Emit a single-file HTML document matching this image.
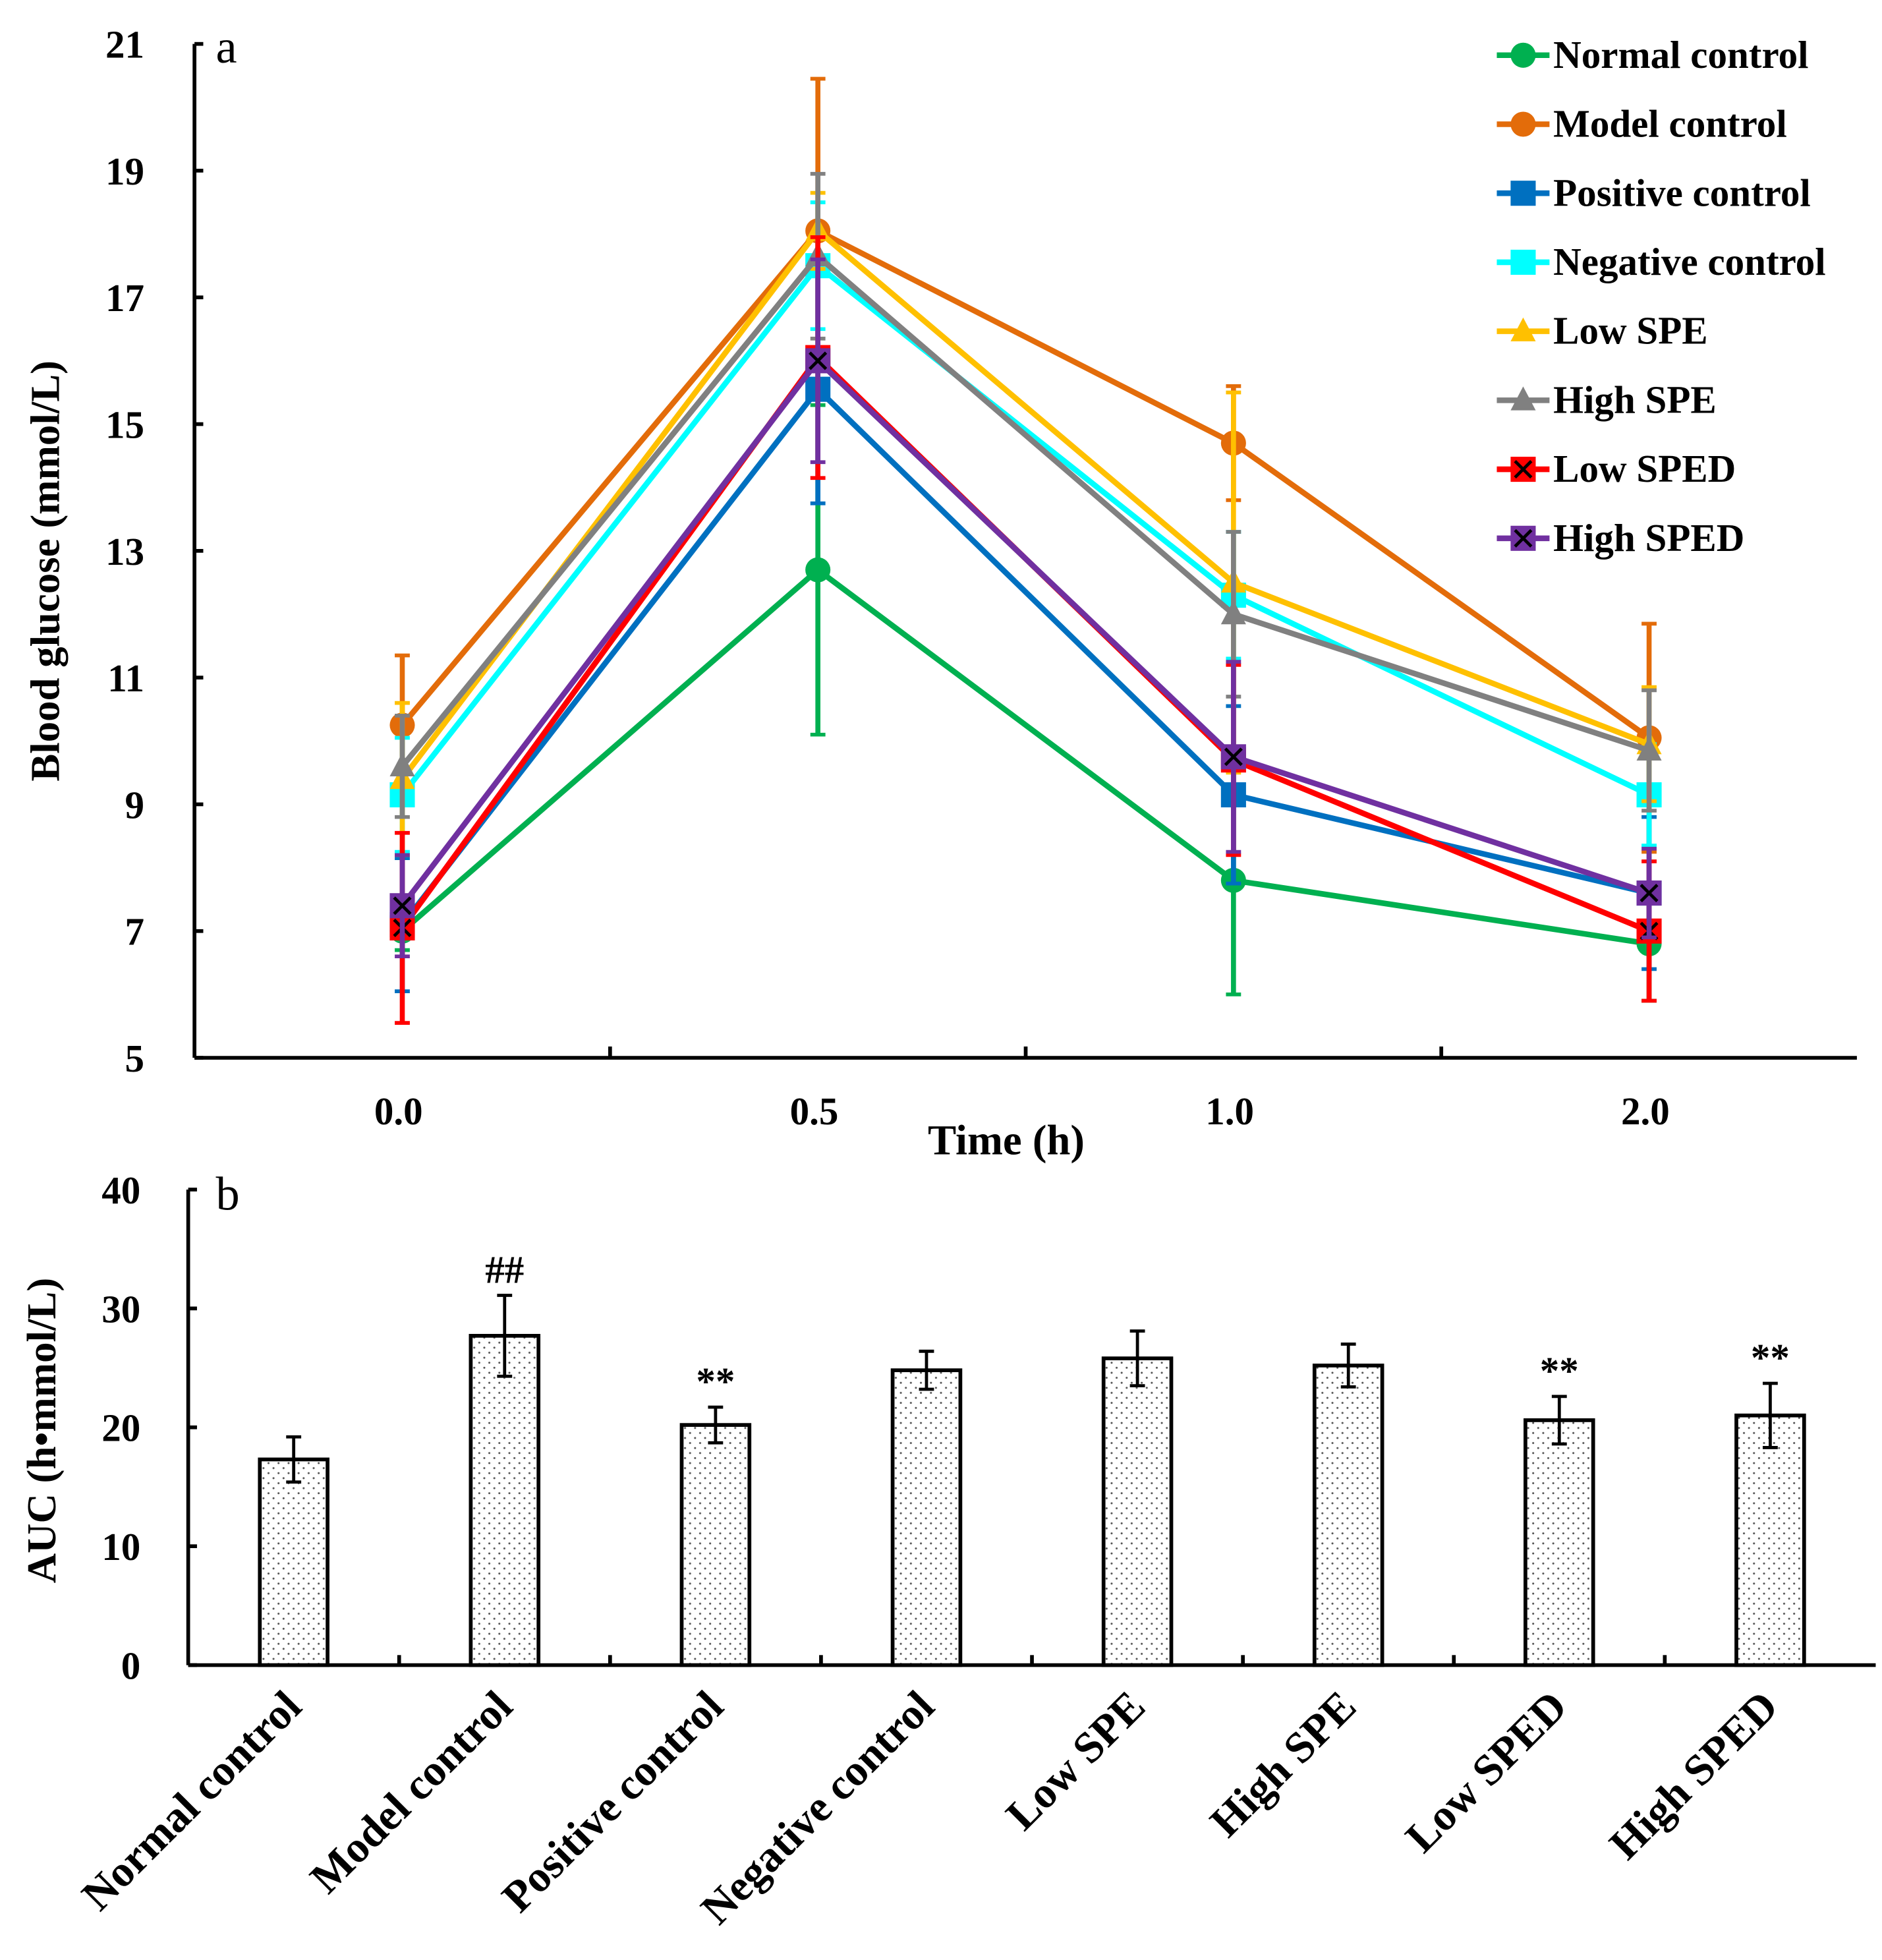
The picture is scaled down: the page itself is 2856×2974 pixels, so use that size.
<!DOCTYPE html>
<html><head><meta charset="utf-8"><style>
html,body{margin:0;padding:0;background:#fff}
svg{display:block}
text{font-family:"Liberation Serif",serif;font-weight:bold;fill:#000}
</style></head><body>
<svg id="c" width="2856" height="2974" viewBox="0 0 1500 1562" xmlns="http://www.w3.org/2000/svg">
<defs>
<pattern id="dots" width="8" height="8" patternUnits="userSpaceOnUse">
<rect width="8" height="8" fill="#fff"/><circle cx="2" cy="2" r="0.8" fill="#555"/><circle cx="6" cy="6" r="0.8" fill="#555"/>
</pattern>
</defs>
<g id="topchart"></g>
<g id="botchart"></g>
</svg>
<script>
const timeLabels=["0.0","0.5","1.0","2.0"];
const seriesNames=["Normal control","Model control","Positive control","Negative control","Low SPE","High SPE","Low SPED","High SPED"];
const seriesColors=["#00b050","#e36c0a","#0070c0","#00ffff","#ffc000","#808080","#ff0000","#7030a0"];
const seriesMarkers=["circle","circle","square","square","triangle","triangle","x","x"];
const normalVals=[7.0,12.7,7.8,6.8], normalErr=[0.3,2.6,1.8,0.9];
const modelVals=[10.25,18.05,14.7,10.05], modelErr=[1.1,2.4,0.9,1.8];
const positiveVals=[7.1,15.55,9.15,7.6], positiveErr=[1.05,1.8,1.4,1.2];
const negativeVals=[9.15,17.5,12.3,9.15], negativeErr=[0.9,1.0,1.0,0.8];
const lowSpeVals=[9.4,18.05,12.5,9.95], lowSpeErr=[1.2,0.6,3.0,0.9];
const highSpeVals=[9.6,17.65,12.0,9.85], highSpeErr=[0.8,1.3,1.3,0.95];
const lowSpedVals=[7.05,16.05,9.7,7.0], lowSpedErr=[1.5,1.9,1.5,1.1];
const highSpedVals=[7.4,16.0,9.75,7.6], highSpedErr=[0.8,1.6,1.5,0.7];
const yTicksTop=[5,7,9,11,13,15,17,19,21];
const barCats=["Normal control","Model control","Positive control","Negative control","Low SPE","High SPE","Low SPED","High SPED"];
const barVals=[17.3,27.7,20.2,24.8,25.8,25.2,20.6,21.0];
const barErr=[1.9,3.4,1.5,1.6,2.3,1.8,2.0,2.7];
const barMarks=["","##","**","","","","**","**"];
const yTicksBot=[0,10,20,30,40];

const NS="http://www.w3.org/2000/svg";
function mk(parent,tag,attrs,txt){const e=document.createElementNS(NS,tag);for(const k in attrs)e.setAttribute(k,attrs[k]);if(txt!==undefined)e.textContent=txt;parent.appendChild(e);return e;}

const topG=document.getElementById('topchart');
const tX0=155,tX1=1480,tYtop=35,tYbot=843;
const yT=v=>tYbot-(v-5)/(21-5)*(tYbot-tYtop);
const band=(tX1-tX0)/4;
const xT=i=>tX0+band*(i+0.5);
let e;
e=mk(topG,'line',{x1:tX0,y1:tYtop,x2:tX0,y2:tYbot,stroke:'#000','stroke-width':3});

e=mk(topG,'line',{x1:tX0,y1:tYbot,x2:tX1,y2:tYbot,stroke:'#000','stroke-width':3});

yTicksTop.forEach(v=>{
  mk(topG,'line',{x1:tX0,y1:yT(v),x2:tX0+7,y2:yT(v),stroke:'#000','stroke-width':3});
  e=mk(topG,'text',{x:tX0-40,y:yT(v)+11,'text-anchor':'end','font-size':31},v);
  
});
for(let i=1;i<4;i++)mk(topG,'line',{x1:tX0+band*i,y1:tYbot,x2:tX0+band*i,y2:tYbot-9,stroke:'#000','stroke-width':3});
timeLabels.forEach((t,i)=>{e=mk(topG,'text',{x:xT(i)-3,y:896,'text-anchor':'middle','font-size':31},t);
  });
e=mk(topG,'text',{x:802,y:920,'text-anchor':'middle','font-size':34},'Time (h)');

e=mk(topG,'text',{x:47,y:455,'text-anchor':'middle','font-size':33,transform:'rotate(-90 47 455)'},'Blood glucose (mmol/L)');

e=mk(topG,'text',{x:172,y:50,'font-size':38,style:'font-weight:normal'},'a');


const allVals=[normalVals,modelVals,positiveVals,negativeVals,lowSpeVals,highSpeVals,lowSpedVals,highSpedVals];
const allErr=[normalErr,modelErr,positiveErr,negativeErr,lowSpeErr,highSpeErr,lowSpedErr,highSpedErr];
function marker(g,type,x,y,c,s){
  if(type==='circle')return mk(g,'circle',{cx:x,cy:y,r:s,fill:c});
  if(type==='square')return mk(g,'rect',{x:x-s,y:y-s,width:2*s,height:2*s,fill:c});
  if(type==='triangle')return mk(g,'polygon',{points:`${x},${y-s*1.1} ${x-s},${y+s*0.8} ${x+s},${y+s*0.8}`,fill:c});
  const gg=mk(g,'g',{});
  mk(gg,'rect',{x:x-s,y:y-s,width:2*s,height:2*s,fill:c});
  mk(gg,'path',{d:`M${x-s*0.65},${y-s*0.65}L${x+s*0.65},${y+s*0.65}M${x+s*0.65},${y-s*0.65}L${x-s*0.65},${y+s*0.65}`,stroke:'#000','stroke-width':2.5});
  return gg;
}
allVals.forEach((vals,si)=>{
  const c=seriesColors[si];
  const g=mk(topG,'g',{});
  
  
  vals.forEach((v,i)=>{const er=allErr[si][i];
    mk(g,'line',{x1:xT(i),y1:yT(v-er),x2:xT(i),y2:yT(v+er),stroke:c,'stroke-width':4});
    mk(g,'line',{x1:xT(i)-6,y1:yT(v+er),x2:xT(i)+6,y2:yT(v+er),stroke:c,'stroke-width':3});
    mk(g,'line',{x1:xT(i)-6,y1:yT(v-er),x2:xT(i)+6,y2:yT(v-er),stroke:c,'stroke-width':3});
  });
  mk(g,'polyline',{points:vals.map((v,i)=>xT(i)+','+yT(v)).join(' '),fill:'none',stroke:c,'stroke-width':4.5});
  vals.forEach((v,i)=>{const m=marker(g,seriesMarkers[si],xT(i),yT(v),c,10);
    
    });
  const ly=44+si*55;
  const lg=mk(topG,'g',{});
  
  
  mk(lg,'line',{x1:1193,y1:ly,x2:1235,y2:ly,stroke:c,'stroke-width':4.5});
  marker(lg,seriesMarkers[si],1214,ly,c,10);
  mk(lg,'text',{x:1238,y:ly+10,'font-size':31},seriesNames[si]);
});

const botG=document.getElementById('botchart');
const bX0=150,bX1=1495,bYtop=948,bYbot=1327;
const yB=v=>bYbot-v/40*(bYbot-bYtop);
const bb=(bX1-bX0)/8;
const xB=i=>bX0+bb*(i+0.5);
e=mk(botG,'line',{x1:bX0,y1:bYtop,x2:bX0,y2:bYbot,stroke:'#000','stroke-width':3});

e=mk(botG,'line',{x1:bX0,y1:bYbot,x2:bX1,y2:bYbot,stroke:'#000','stroke-width':3});

yTicksBot.forEach(v=>{
  mk(botG,'line',{x1:bX0,y1:yB(v),x2:bX0+7,y2:yB(v),stroke:'#000','stroke-width':3});
  e=mk(botG,'text',{x:bX0-38,y:yB(v)+11,'text-anchor':'end','font-size':31},v);
  
});
for(let i=1;i<8;i++)mk(botG,'line',{x1:bX0+bb*i,y1:bYbot,x2:bX0+bb*i,y2:bYbot-8,stroke:'#000','stroke-width':3});
e=mk(botG,'text',{x:44,y:1140,'text-anchor':'middle','font-size':33,transform:'rotate(-90 44 1140)'},'AUC (h•mmol/L)');

e=mk(botG,'text',{x:172,y:964,'font-size':38,style:'font-weight:normal'},'b');

barVals.forEach((v,i)=>{
  const x=xB(i),w=54;
  e=mk(botG,'rect',{x:x-w/2,y:yB(v),width:w,height:bYbot-yB(v),fill:'url(#dots)',stroke:'#000','stroke-width':3});
  
  
  const er=barErr[i];
  mk(botG,'line',{x1:x,y1:yB(v-er),x2:x,y2:yB(v+er),stroke:'#000','stroke-width':2.5});
  mk(botG,'line',{x1:x-6,y1:yB(v+er),x2:x+6,y2:yB(v+er),stroke:'#000','stroke-width':2.5});
  mk(botG,'line',{x1:x-6,y1:yB(v-er),x2:x+6,y2:yB(v-er),stroke:'#000','stroke-width':2.5});
  if(barMarks[i]){e=mk(botG,'text',{x:x,y:yB(v+er)-10,'text-anchor':'middle','font-size':31},barMarks[i]);
    
    }
  const lx=x+8,ly=1362;
  e=mk(botG,'text',{x:lx,y:ly,'text-anchor':'end','font-size':35,transform:`rotate(-45 ${lx} ${ly})`},barCats[i]);
  
  
});
</script>
</body></html>
